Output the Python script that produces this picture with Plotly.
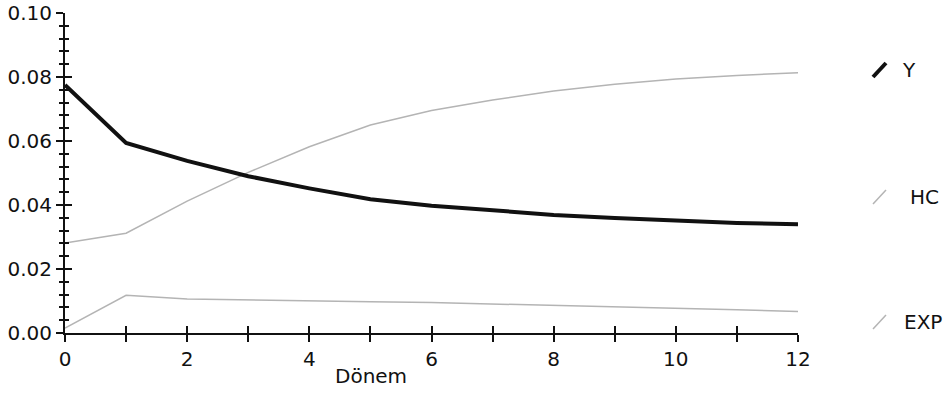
import plotly.graph_objects as go

# Period index and the three response paths
periods = [0, 1, 2, 3, 4, 5, 6, 7, 8, 9, 10, 11, 12]
y_path = [0.0775, 0.0594, 0.0538, 0.0490, 0.0452, 0.0418, 0.0398, 0.0382,
          0.0369, 0.0359, 0.0350, 0.0344, 0.0340]
hc_path = [0.0281, 0.0312, 0.0412, 0.0502, 0.0582, 0.0650, 0.0695, 0.0728,
           0.0756, 0.0777, 0.0794, 0.0805, 0.0813]
exp_path = [0.0015, 0.0118, 0.0106, 0.0104, 0.0101, 0.0098, 0.0095, 0.0091,
            0.0087, 0.0083, 0.0078, 0.0073, 0.0067]

series_names = ["Y", "HC", "EXP"]
x_tick_vals = periods
x_tick_text = [str(p) if p % 2 == 0 else "" for p in periods]

FONT = "DejaVu Sans"
BLACK = "#111111"
GRAY = "#b4b4b4"

fig = go.Figure()

fig.add_trace(go.Scatter(x=periods, y=hc_path, mode="lines", name="HC",
                         line=dict(color=GRAY, width=1.5), showlegend=False))
fig.add_trace(go.Scatter(x=periods, y=exp_path, mode="lines", name="EXP",
                         line=dict(color=GRAY, width=1.5), showlegend=False))
fig.add_trace(go.Scatter(x=periods, y=y_path, mode="lines", name="Y",
                         line=dict(color=BLACK, width=4), showlegend=False))

# invisible helpers so the overlay axes (inner half of the crossing ticks) get drawn
fig.add_trace(go.Scatter(x=[periods[0]], y=[y_path[0]], xaxis="x2", yaxis="y",
                         mode="lines", opacity=0, hoverinfo="skip", showlegend=False))
fig.add_trace(go.Scatter(x=[periods[0]], y=[y_path[0]], xaxis="x", yaxis="y2",
                         mode="lines", opacity=0, hoverinfo="skip", showlegend=False))

tick_font = dict(family=FONT, size=20, color=BLACK)

fig.update_layout(
    width=949, height=416,
    margin=dict(l=65, r=151, t=13, b=83, autoexpand=False),
    paper_bgcolor="white", plot_bgcolor="white",
    showlegend=False,
    xaxis=dict(range=[0, 12], tickmode="array", tickvals=x_tick_vals,
               ticktext=x_tick_text, ticks="outside", ticklen=7, tickwidth=2,
               tickcolor=BLACK, showline=True, linewidth=2, linecolor=BLACK,
               showgrid=False, zeroline=False, tickfont=tick_font,
               automargin=False),
    xaxis2=dict(overlaying="x", matches="x", anchor="y", side="bottom",
                tickmode="array", tickvals=x_tick_vals, ticks="inside",
                ticklen=7, tickwidth=2, tickcolor=BLACK, showticklabels=False,
                showline=False, showgrid=False, zeroline=False, automargin=False),
    yaxis=dict(range=[0, 0.10], tick0=0, dtick=0.02, tickformat=".2f",
               ticks="outside", ticklen=7, tickwidth=2, tickcolor=BLACK,
               minor=dict(tick0=0, dtick=0.004, ticks="outside", ticklen=4,
                          tickwidth=2, tickcolor=BLACK, showgrid=False),
               showline=True, linewidth=2, linecolor=BLACK, showgrid=False,
               zeroline=False, tickfont=tick_font, automargin=False),
    yaxis2=dict(overlaying="y", matches="y", anchor="x", side="left",
                tick0=0, dtick=0.02, ticks="inside", ticklen=7, tickwidth=2,
                tickcolor=BLACK, showticklabels=False,
                minor=dict(tick0=0, dtick=0.004, ticks="inside", ticklen=4,
                           tickwidth=2, tickcolor=BLACK, showgrid=False),
                showline=False, showgrid=False, zeroline=False, automargin=False),
)

# x-axis title
fig.add_annotation(text="Dönem", xref="paper", yref="paper",
                   x=0.4175, y=-0.134, xanchor="center", yanchor="middle",
                   showarrow=False, font=dict(family=FONT, size=20, color=BLACK))

# key on the right: slash glyph + label for each series
key_rows = [
    # (label, glyph color, glyph width, label left px, center y px)
    ("Y", BLACK, 4, 900, 70),
    ("HC", GRAY, 1.5, 908, 197),
    ("EXP", GRAY, 1.5, 902, 322),
]
W, H = 949, 416
L, R, T, B = 65, 151, 13, 83
pw, ph = W - L - R, H - T - B


def px_x(px):
    return (px - L) / pw


def px_y(py):
    return (H - B - py) / ph


for label, color, width, tx, cy in key_rows:
    fig.add_shape(type="line", xref="paper", yref="paper",
                  x0=px_x(873), y0=px_y(cy + 7), x1=px_x(886), y1=px_y(cy - 7),
                  line=dict(color=color, width=width))
    fig.add_annotation(text=label, xref="paper", yref="paper",
                       x=px_x(tx), y=px_y(cy), xanchor="left", yanchor="middle",
                       showarrow=False, font=dict(family=FONT, size=20, color=BLACK))

fig.write_html("out.html")
